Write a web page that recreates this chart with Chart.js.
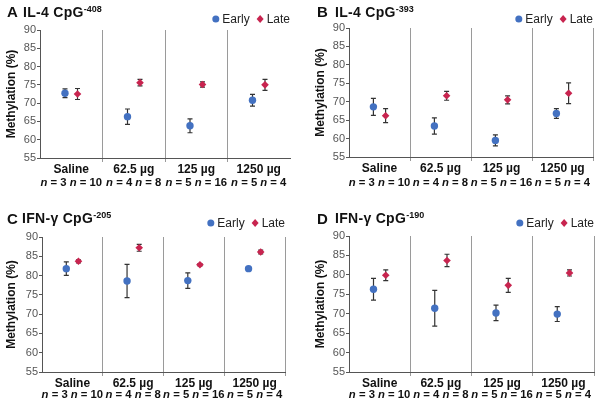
<!DOCTYPE html>
<html><head><meta charset="utf-8">
<script src="https://cdn.jsdelivr.net/npm/chart.js@4.4.1/dist/chart.umd.min.js"></script>
<style>
body{margin:0;background:#fff;width:601px;height:407px;overflow:hidden;font-family:"Liberation Sans",Arial,Helvetica,sans-serif;}
.panel{position:absolute;}
.panel canvas{position:absolute;left:0;top:0;}
.let{position:absolute;font-weight:bold;font-size:15px;line-height:15px;color:#111;}
.ttl{position:absolute;font-weight:bold;font-size:14px;line-height:14px;color:#111;white-space:nowrap;letter-spacing:0.3px;}
.ttl sup{font-size:9px;vertical-align:5px;line-height:0;letter-spacing:0;}
</style></head><body>
<script>
// ---- data ----
const categories = ['Saline', '62.5 µg', '125 µg', '1250 µg'];
const nEarly = [3, 4, 5, 5];
const nLate = [10, 8, 16, 4];
const yTickMin = 55, yTickMax = 90, yTickStep = 5;
const seriesNames = ['Early', 'Late'];
const panelLetters = ['A', 'B', 'C', 'D'];
const geneNames = ['IL-4 CpG', 'IL-4 CpG', 'IFN-γ CpG', 'IFN-γ CpG'];
const cpgSites = ['-408', '-393', '-205', '-190'];

const earlyA = [72.7, 66.3, 63.8, 70.8];
const earlyErrA = [1.2, 2.1, 1.9, 1.6];
const lateA = [72.5, 75.6, 75.1, 75.0];
const lateErrA = [1.5, 0.9, 0.7, 1.5];

const earlyB = [68.6, 63.4, 59.5, 66.8];
const earlyErrB = [2.3, 2.2, 1.5, 1.3];
const lateB = [66.2, 71.6, 70.5, 72.3];
const lateErrB = [1.9, 1.2, 1.1, 2.8];

const earlyC = [81.8, 78.6, 78.7, 81.8];
const earlyErrC = [1.75, 4.3, 2.0, 0.2];
const lateC = [83.7, 87.2, 82.8, 86.1];
const lateErrC = [0.4, 0.9, 0.3, 0.5];

const earlyD = [76.3, 71.4, 70.2, 69.9];
const earlyErrD = [2.8, 4.6, 2.0, 1.9];
const lateD = [79.9, 83.7, 77.3, 80.5];
const lateErrD = [1.4, 1.6, 1.8, 0.8];

const panelEarly = [earlyA, earlyB, earlyC, earlyD];
const panelEarlyErr = [earlyErrA, earlyErrB, earlyErrC, earlyErrD];
const panelLate = [lateA, lateB, lateC, lateD];
const panelLateErr = [lateErrA, lateErrB, lateErrC, lateErrD];

// ---- style / layout ----
const FONT = '"Liberation Sans", Arial, Helvetica, sans-serif';
const EARLY_COLOR = '#4371c1';
const LATE_COLOR = '#c8244f';
const SHIFT = 0.1;
const layouts = [
  {left:0,   top:0,   w:300, h:200, padL:0, padR:10, padT:30, yW:40, xH:42, nOff:25, legY:19, rightLine:false,
   letX:7, letY:4, ttlX:23, ttlY:5},
  {left:300, top:0,   w:301, h:200, padL:9, padR:8,  padT:28, yW:40, xH:43, nOff:26, legY:19, rightLine:true,
   letX:17, letY:4, ttlX:35, ttlY:5},
  {left:0,   top:200, w:300, h:207, padL:0, padR:15, padT:37, yW:42, xH:35, nOff:23, legY:23, rightLine:true,
   letX:7, letY:11, ttlX:22, ttlY:11},
  {left:300, top:200, w:301, h:207, padL:9, padR:7,  padT:36, yW:40, xH:35, nOff:23, legY:23, rightLine:true,
   letX:17, letY:11, ttlX:35, ttlY:11}
];

const errorBarPlugin = {
  id: 'errorBars',
  beforeDatasetsDraw(chart) {
    const ctx = chart.ctx, ys = chart.scales.y;
    ctx.save();
    ctx.strokeStyle = '#333';
    ctx.lineWidth = 1.2;
    chart.data.datasets.forEach((ds, i) => {
      const meta = chart.getDatasetMeta(i);
      meta.data.forEach((el, j) => {
        const v = ds.data[j].y, e = ds.errors[j];
        const y1 = ys.getPixelForValue(v + e), y2 = ys.getPixelForValue(v - e);
        const x = el.x;
        ctx.beginPath();
        ctx.moveTo(x, y1); ctx.lineTo(x, y2);
        ctx.moveTo(x - 2.5, y1); ctx.lineTo(x + 2.5, y1);
        ctx.moveTo(x - 2.5, y2); ctx.lineTo(x + 2.5, y2);
        ctx.stroke();
      });
    });
    ctx.restore();
  }
};

const nRowPlugin = {
  id: 'nRow',
  afterDraw(chart, args, opts) {
    const ctx = chart.ctx, xs = chart.scales.x;
    const y = chart.chartArea.bottom + opts.offset;
    ctx.save();
    ctx.fillStyle = '#111';
    ctx.textBaseline = 'middle';
    const fs = '11.3px ';
    categories.forEach((c, k) => {
      const segs = [
        {t: 'n', f: 'italic bold ' + fs + FONT},
        {t: ' = ' + nEarly[k] + ' ', f: 'bold ' + fs + FONT},
        {t: 'n', f: 'italic bold ' + fs + FONT},
        {t: ' = ' + nLate[k], f: 'bold ' + fs + FONT}
      ];
      let total = 0;
      segs.forEach(s => { ctx.font = s.f; s.w = ctx.measureText(s.t).width; total += s.w; });
      let x = xs.getPixelForValue(k) - total / 2;
      ctx.textAlign = 'left';
      segs.forEach(s => { ctx.font = s.f; ctx.fillText(s.t, x, y); x += s.w; });
    });
    ctx.restore();
  }
};

const legendPlugin = {
  id: 'cornerLegend',
  afterDraw(chart, args, opts) {
    const ctx = chart.ctx;
    ctx.save();
    ctx.font = '12px ' + FONT;
    ctx.textBaseline = 'middle';
    const items = chart.data.datasets.map(d => ({label: d.label, color: d.backgroundColor, style: d.pointStyle}));
    const r = 3.5, gapM = 3, gapI = 7;
    const widths = items.map(it => 2 * r + gapM + ctx.measureText(it.label).width);
    const total = widths.reduce((a, b) => a + b, 0) + gapI * (items.length - 1);
    let x = chart.chartArea.right - total;
    const y = opts.y;
    items.forEach((it, i) => {
      ctx.fillStyle = it.color;
      ctx.beginPath();
      if (it.style === 'circle') {
        ctx.arc(x + r, y, r, 0, Math.PI * 2);
      } else {
        ctx.moveTo(x + r, y - r - 0.5); ctx.lineTo(x + 2 * r, y); ctx.lineTo(x + r, y + r + 0.5); ctx.lineTo(x, y);
        ctx.closePath();
      }
      ctx.fill();
      ctx.fillStyle = '#222';
      ctx.textAlign = 'left';
      ctx.fillText(it.label, x + 2 * r + gapM, y + 0.5);
      x += widths[i] + gapI;
    });
    ctx.restore();
  }
};

const yTicks = [];
for (let v = yTickMin; v <= yTickMax; v += yTickStep) yTicks.push(v);
const xTickValues = [];
for (let v = -0.5; v <= categories.length - 0.5; v += 0.5) xTickValues.push(v);

layouts.forEach((L, p) => {
  const div = document.createElement('div');
  div.className = 'panel';
  div.style.left = L.left + 'px'; div.style.top = L.top + 'px';
  div.style.width = L.w + 'px'; div.style.height = L.h + 'px';
  const cv = document.createElement('canvas');
  cv.width = L.w; cv.height = L.h;
  cv.style.width = L.w + 'px'; cv.style.height = L.h + 'px';
  div.appendChild(cv);
  const let_ = document.createElement('div');
  let_.className = 'let'; let_.textContent = panelLetters[p];
  let_.style.left = L.letX + 'px'; let_.style.top = L.letY + 'px';
  div.appendChild(let_);
  const ttl = document.createElement('div');
  ttl.className = 'ttl';
  ttl.innerHTML = geneNames[p] + '<sup>' + cpgSites[p] + '</sup>';
  ttl.style.left = L.ttlX + 'px'; ttl.style.top = L.ttlY + 'px';
  div.appendChild(ttl);
  document.body.appendChild(div);

  const mk = (vals, shift) => vals.map((v, k) => ({x: k + shift, y: v}));
  new Chart(cv, {
    type: 'scatter',
    data: {
      datasets: [
        {label: seriesNames[0], data: mk(panelEarly[p], -SHIFT), errors: panelEarlyErr[p],
         backgroundColor: EARLY_COLOR, borderColor: EARLY_COLOR, pointStyle: 'circle', pointRadius: 3.7, borderWidth: 0},
        {label: seriesNames[1], data: mk(panelLate[p], SHIFT), errors: panelLateErr[p],
         backgroundColor: LATE_COLOR, borderColor: LATE_COLOR, pointStyle: 'rectRot', pointRadius: 3.8, borderWidth: 0}
      ]
    },
    options: {
      responsive: false,
      animation: false,
      devicePixelRatio: 1,
      layout: {padding: {left: L.padL, right: L.padR, top: L.padT, bottom: 0}},
      plugins: {
        legend: {display: false},
        tooltip: {enabled: false},
        nRow: {offset: L.nOff},
        cornerLegend: {y: L.legY}
      },
      scales: {
        x: {
          type: 'linear',
          min: -0.5, max: categories.length - 0.5,
          afterBuildTicks: s => { s.ticks = xTickValues.map(v => ({value: v})); },
          afterFit: s => { s.height = L.xH; },
          ticks: {
            autoSkip: false, maxRotation: 0, minRotation: 0, padding: 0,
            color: '#111', font: {family: FONT, size: 12, weight: 'bold'},
            callback: v => Number.isInteger(v) ? categories[v] : ''
          },
          grid: {
            drawOnChartArea: true, drawTicks: true, tickLength: 4, lineWidth: 1,
            color: c => {
              const v = c.tick ? c.tick.value : 0;
              if (Number.isInteger(v)) return 'rgba(0,0,0,0)';
              if (v <= -0.5) return 'rgba(0,0,0,0)';
              if (v >= categories.length - 0.5 && !L.rightLine) return 'rgba(0,0,0,0)';
              return '#9a9a9a';
            }
          },
          border: {display: true, color: '#555', width: 1}
        },
        y: {
          min: yTickMin, max: yTickMax,
          afterBuildTicks: s => { s.ticks = yTicks.map(v => ({value: v})); },
          afterFit: s => { s.width = L.yW; },
          ticks: {color: '#555', font: {family: FONT, size: 11}, padding: 1},
          grid: {drawOnChartArea: false, drawTicks: true, tickLength: 3, color: '#555'},
          border: {display: true, color: '#555', width: 1},
          title: {display: true, text: 'Methylation (%)', color: '#111',
                  font: {family: FONT, size: 12, weight: 'bold'}, padding: {top: 4, bottom: 2}}
        }
      }
    },
    plugins: [errorBarPlugin, nRowPlugin, legendPlugin]
  });
});
</script>
</body></html>
